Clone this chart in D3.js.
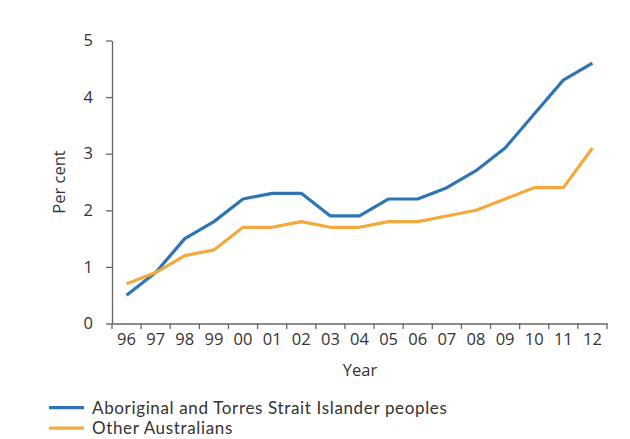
<!DOCTYPE html>
<html><head><meta charset="utf-8">
<script src="https://cdn.jsdelivr.net/npm/d3@7"></script>
<style>body{margin:0;background:#fff}svg{display:block}</style>
</head><body>
<svg id="c" width="630" height="439"></svg>
<script>
const years = ["96","97","98","99","00","01","02","03","04","05","06","07","08","09","10","11","12"];
const indigenous = [0.5,0.9,1.5,1.8,2.2,2.3,2.3,1.9,1.9,2.2,2.2,2.4,2.7,3.1,3.7,4.3,4.6];
const others = [0.7,0.9,1.2,1.3,1.7,1.7,1.8,1.7,1.7,1.8,1.8,1.9,2.0,2.2,2.4,2.4,3.1];
const yTicks = [0,1,2,3,4,5];
const seriesNames = ["Aboriginal and Torres Strait Islander peoples","Other Australians"];
const colors = ["#2f74b5","#f3a93b"];

const svg = d3.select("#c");
const font = "'Open Sans', sans-serif";
const lfont = "Lato, 'Open Sans', sans-serif";
const fs = 16.5;
const x = d3.scaleBand().domain(years).range([112, 607]);
const y = d3.scaleLinear().domain([0,5]).range([323.5, 40.5]);

const xa = svg.append("g").attr("transform","translate(0,323.5)")
  .call(d3.axisBottom(x).tickSizeInner(0).tickSizeOuter(0).tickPadding(10));
xa.select(".domain").attr("stroke","#666").attr("stroke-width",1.3);
svg.append("g").selectAll("line").data(years.concat(["end"])).join("line")
  .attr("x1",(d,i)=>112 + i*x.step()).attr("x2",(d,i)=>112 + i*x.step())
  .attr("y1",323.5).attr("y2",329).attr("stroke","#666").attr("stroke-width",1.3);
xa.selectAll("text").attr("font-family",font).attr("font-size",fs).attr("fill","#333");

const ya = svg.append("g").attr("transform","translate(112,0)")
  .call(d3.axisLeft(y).tickValues(yTicks).tickFormat(d3.format("d")).tickSize(6).tickSizeOuter(0).tickPadding(13));
ya.select(".domain").attr("stroke","#666").attr("stroke-width",1.3);
ya.selectAll("line").attr("stroke","#666").attr("stroke-width",1.3);
ya.selectAll("text").attr("font-family",font).attr("font-size",fs).attr("fill","#333");

svg.append("text").attr("transform","translate(65,182) rotate(-90)")
  .attr("text-anchor","middle").attr("font-family",font).attr("font-size",fs).attr("fill","#333").text("Per cent");
svg.append("text").attr("x",360).attr("y",376).attr("text-anchor","middle")
  .attr("font-family",font).attr("font-size",fs).attr("fill","#333").text("Year");

const line = d3.line().x((d,i)=>x(years[i])+x.bandwidth()/2).y(d=>y(d));
[indigenous, others].forEach((s,k)=>{
  svg.append("path").datum(s).attr("d",line).attr("fill","none")
    .attr("stroke",colors[k]).attr("stroke-width",3.2).attr("stroke-linejoin","round");
});

const lg = svg.append("g");
seriesNames.forEach((n,k)=>{
  const yy = 407.7 + k*20.5;
  lg.append("line").attr("x1",49).attr("x2",84).attr("y1",yy).attr("y2",yy)
    .attr("stroke",colors[k]).attr("stroke-width",3.2);
  lg.append("text").attr("x",92).attr("y",yy+6).attr("font-family",lfont).attr("font-size",17)
    .attr("letter-spacing",0.65).attr("fill","#333").text(n);
});
</script>
</body></html>
